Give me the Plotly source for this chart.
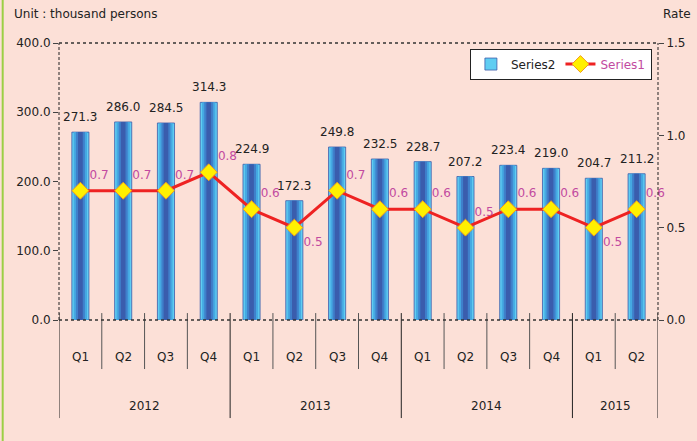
import plotly.graph_objects as go

# ---------------- data ----------------
years = ["2012", "2013", "2014", "2015"]
quarters = ["Q1", "Q2", "Q3", "Q4", "Q1", "Q2", "Q3", "Q4", "Q1", "Q2", "Q3", "Q4", "Q1", "Q2"]
year_of = ["2012"] * 4 + ["2013"] * 4 + ["2014"] * 4 + ["2015"] * 2
series2 = [271.3, 286.0, 284.5, 314.3, 224.9, 172.3, 249.8, 232.5, 228.7, 207.2, 223.4, 219.0, 204.7, 211.2]
series1 = [0.7, 0.7, 0.7, 0.8, 0.6, 0.5, 0.7, 0.6, 0.6, 0.5, 0.6, 0.6, 0.5, 0.6]
left_ticks = [0, 100, 200, 300, 400]
right_ticks = [0.0, 0.5, 1.0, 1.5]

xcat = [f"{y} {q}" for y, q in zip(year_of, quarters)]

FONT = "DejaVu Sans"
BG = "#FCE0D7"
MAGENTA = "#C24AA0"
TXT = "#222"

fig = go.Figure()

# bars with a simulated horizontal gradient (layered widths)
layers = [
    (0.40, "#5FCDF2", dict(color="#3D5CAA", width=0.8)),
    (0.31, "#45A9E2", dict(width=0)),
    (0.21, "#3F80CB", dict(width=0)),
    (0.11, "#3A5DAD", dict(width=0)),
]
for k, (w, c, ln) in enumerate(layers):
    fig.add_trace(go.Bar(
        x=xcat, y=series2, width=w, marker=dict(color=c, line=ln),
        name="Series2", showlegend=(k == 0), hoverinfo="y",
    ))

positions = ["bottom right" if i in (5, 12) else "top right" for i in range(len(series1))]

fig.add_trace(go.Scatter(
    x=xcat, y=series1, yaxis="y2", mode="lines+markers+text",
    text=[f"{v:.1f}" for v in series1], textposition=positions,
    textfont=dict(family=FONT, size=12, color=MAGENTA),
    line=dict(color="#EE2222", width=3),
    marker=dict(symbol="diamond", size=13, color="#FFF000", line=dict(color="#F29B1E", width=1)),
    name=f'<span style="color:{MAGENTA}">Series1</span>', cliponaxis=False,
))

annotations = []
for xc, v in zip(xcat, series2):
    annotations.append(dict(x=xc, y=v, xref="x", yref="y", text=f"{v:.1f}", showarrow=False,
                            yshift=15, font=dict(family=FONT, size=12, color=TXT)))
for xc, q in zip(xcat, quarters):
    annotations.append(dict(x=xc, y=0, xref="x", yref="paper", text=q, showarrow=False,
                            yanchor="middle", yshift=-37, font=dict(family=FONT, size=12, color=TXT)))
for y in years:
    idx = [i for i, yy in enumerate(year_of) if yy == y]
    annotations.append(dict(x=sum(idx) / len(idx), y=0, xref="x", yref="paper", text=y,
                            showarrow=False, yanchor="middle", yshift=-86,
                            font=dict(family=FONT, size=12, color=TXT)))
annotations.append(dict(x=-0.078, y=1.105, xref="paper", yref="paper", text="Unit : thousand persons",
                        xanchor="left", yanchor="middle", showarrow=False,
                        font=dict(family=FONT, size=12, color=TXT)))
annotations.append(dict(x=1.058, y=1.105, xref="paper", yref="paper", text="Rate",
                        xanchor="right", yanchor="middle", showarrow=False,
                        font=dict(family=FONT, size=12, color=TXT)))

shapes = []
n = len(xcat)
for b in range(n + 1):
    is_year = b == 0 or b == n or year_of[b] != year_of[b - 1]
    shapes.append(dict(type="line", xref="x", yref="paper", x0=b - 0.5, x1=b - 0.5,
                       y0=0.025, y1=-0.354 if is_year else -0.177,
                       line=dict(color="#222" if is_year else "#555", width=1)))
shapes += [
    dict(type="line", xref="paper", yref="paper", x0=0, x1=0, y0=0, y1=1,
         line=dict(color="#222", width=1, dash="3px,2px")),
    dict(type="line", xref="paper", yref="paper", x0=1, x1=1, y0=0, y1=1,
         line=dict(color="#222", width=1, dash="3px,2px")),
    dict(type="line", xref="paper", yref="paper", x0=0, x1=1, y0=1, y1=1,
         line=dict(color="#333", width=1.5, dash="dot")),
    dict(type="line", xref="paper", yref="paper", x0=0, x1=1, y0=0, y1=0, layer="above",
         line=dict(color="#333", width=1.5, dash="dot")),
    dict(type="line", xref="paper", yref="paper", x0=-0.094, x1=-0.094, y0=-0.5, y1=1.2,
         line=dict(color="#9CCF45", width=2)),
]

fig.update_layout(
    width=697, height=441,
    margin=dict(l=59, r=37, t=43, b=121),
    paper_bgcolor=BG, plot_bgcolor=BG,
    barmode="overlay",
    font=dict(family=FONT, size=12, color=TXT),
    xaxis=dict(type="category", categoryarray=xcat, range=[-0.5, n - 0.5], showticklabels=False,
               showgrid=False, zeroline=False, showline=False, ticks=""),
    yaxis=dict(range=[0, 400], tickvals=left_ticks, tickformat=".1f", ticks="outside", ticklen=5,
               tickcolor="#444", showgrid=False, zeroline=False, showline=False,
               tickfont=dict(family=FONT, size=12, color=TXT)),
    yaxis2=dict(range=[0, 1.5], tickvals=right_ticks, tickformat=".1f", overlaying="y", side="right",
                ticks="outside", ticklen=5, tickcolor="#444", showgrid=False, zeroline=False,
                showline=False, tickfont=dict(family=FONT, size=12, color=TXT)),
    legend=dict(x=0.686, y=0.924, xanchor="left", yanchor="middle", orientation="h",
                bgcolor="white", bordercolor="#222", borderwidth=1,
                font=dict(family=FONT, size=12, color=TXT)),
    annotations=annotations, shapes=shapes, showlegend=True,
)

fig.write_html("out.html", config={"displayModeBar": False},
               post_script="document.body.style.margin='0';")
